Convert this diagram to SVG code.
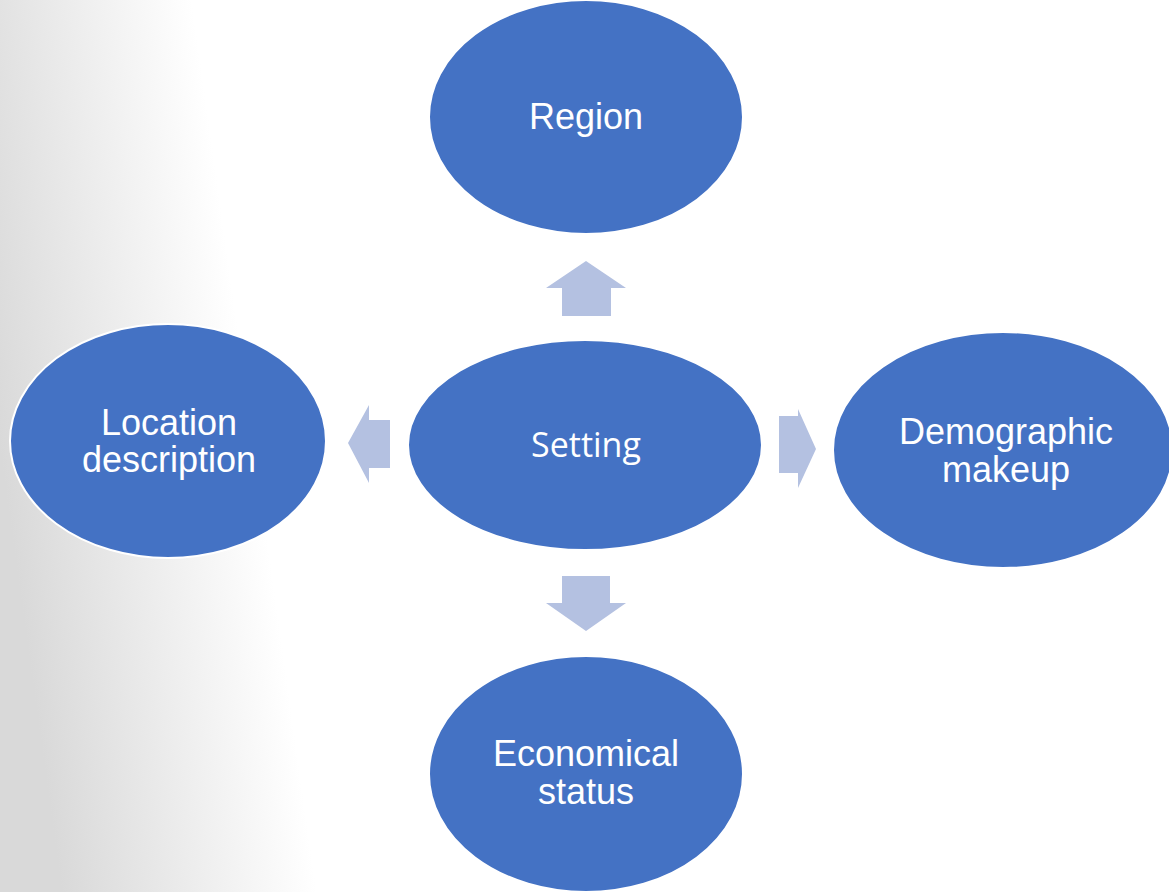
<svg xmlns="http://www.w3.org/2000/svg" width="1169" height="892" viewBox="0 0 1169 892">
<defs>
<linearGradient id="bg" gradientUnits="userSpaceOnUse" x1="0" y1="450" x2="250" y2="415">
<stop offset="0" stop-color="#D9D9D9"/>
<stop offset="1" stop-color="#FFFFFF"/>
</linearGradient>
<style>
.node{fill:#4472C4;stroke:#FFFFFF;stroke-width:2}
.arrow{fill:#B4C1E1}
.lbl{font-family:"Liberation Sans",Arial,sans-serif;font-size:36px;fill:#FFFFFF;text-anchor:middle}
.lbl2{font-family:"Open Sans","Liberation Sans",sans-serif;font-size:34px;fill:#FFFFFF;text-anchor:middle}
</style>
</defs>
<rect width="1169" height="892" fill="url(#bg)"/>
<g id="connectors">
<polygon class="arrow" points="586,261 626,288 611,288 611,316 562,316 562,288 546,288"/>
<polygon class="arrow" points="348,443 369,405 369,420 390,420 390,468 369,468 369,483"/>
<polygon class="arrow" points="816,449 798,409 798,416 779,416 779,473 798,473 798,488"/>
<polygon class="arrow" points="586,631 626,603 610,603 610,576 562,576 562,603 546,603"/>
</g>
<g id="region">
<ellipse class="node" cx="586" cy="117" rx="157" ry="117"/>
<text class="lbl" x="586" y="129">Region</text>
</g>
<g id="location">
<ellipse class="node" cx="168" cy="441" rx="158" ry="117"/>
<text class="lbl" x="169" y="435">Location</text>
<text class="lbl" x="169" y="472">description</text>
</g>
<g id="setting">
<ellipse class="node" cx="585" cy="445" rx="177" ry="105"/>
<text class="lbl2" x="586" y="457">Setting</text>
</g>
<g id="demographic">
<ellipse class="node" cx="1003" cy="450" rx="170" ry="118"/>
<text class="lbl" x="1006" y="444">Demographic</text>
<text class="lbl" x="1006" y="482">makeup</text>
</g>
<g id="economical">
<ellipse class="node" cx="586" cy="774" rx="157" ry="118"/>
<text class="lbl" x="586" y="766">Economical</text>
<text class="lbl" x="586" y="804">status</text>
</g>
</svg>
